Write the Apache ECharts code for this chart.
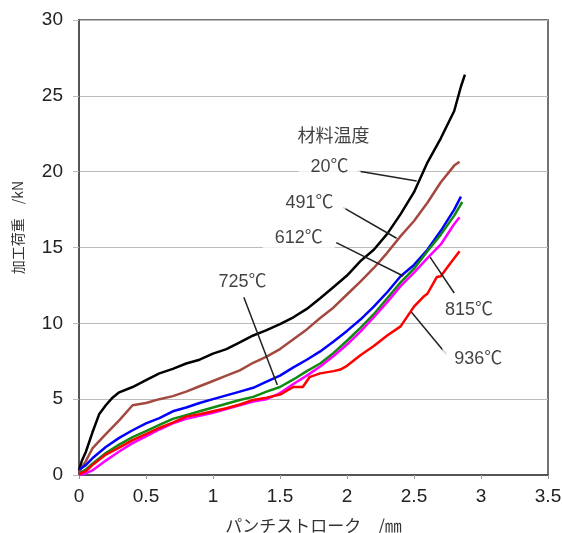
<!DOCTYPE html>
<html>
<head>
<meta charset="utf-8">
<script src="https://cdn.jsdelivr.net/npm/echarts@6.0.0/dist/echarts.min.js"></script>
<style>
  html, body { margin: 0; padding: 0; background: #fff; }
  #main { width: 562px; height: 533px; }
</style>
</head>
<body>
<div id="main"></div>
<script>
// パンチストローク (mm) と 加工荷重 (kN)
var load20 = [[0,0.3],[0.02,0.9],[0.05,1.5],[0.1,2.8],[0.15,4.0],[0.2,4.6],[0.25,5.1],[0.3,5.45],[0.4,5.8],[0.5,6.25],[0.6,6.7],[0.7,7.0],[0.8,7.35],[0.9,7.6],[1.0,8.0],[1.1,8.3],[1.2,8.75],[1.3,9.2],[1.4,9.55],[1.5,9.95],[1.6,10.4],[1.7,10.95],[1.8,11.65],[1.9,12.4],[2.0,13.15],[2.1,14.1],[2.2,14.85],[2.3,15.9],[2.4,17.2],[2.5,18.65],[2.6,20.6],[2.7,22.2],[2.8,24.0],[2.85,25.6],[2.88,26.4]]
var load491 = [[0,0.2],[0.05,0.9],[0.1,1.75],[0.2,2.7],[0.3,3.6],[0.4,4.6],[0.5,4.75],[0.6,5.0],[0.7,5.2],[0.8,5.5],[0.9,5.85],[1.0,6.2],[1.1,6.55],[1.2,6.9],[1.3,7.4],[1.4,7.8],[1.5,8.3],[1.6,8.95],[1.7,9.6],[1.8,10.35],[1.9,11.05],[2.0,11.9],[2.1,12.75],[2.2,13.65],[2.3,14.65],[2.4,15.75],[2.5,16.75],[2.6,17.95],[2.7,19.3],[2.8,20.4],[2.84,20.65]]
var load612 = [[0,0.35],[0.05,0.65],[0.1,1.1],[0.2,1.85],[0.3,2.45],[0.4,2.95],[0.5,3.4],[0.6,3.75],[0.7,4.2],[0.8,4.45],[0.9,4.75],[1.0,5.0],[1.1,5.25],[1.2,5.5],[1.3,5.75],[1.4,6.15],[1.5,6.55],[1.6,7.1],[1.7,7.6],[1.8,8.15],[1.9,8.8],[2.0,9.5],[2.1,10.25],[2.2,11.1],[2.3,12.05],[2.4,13.1],[2.5,13.85],[2.6,14.85],[2.7,16.1],[2.8,17.5],[2.85,18.35]]
var load725 = [[0,0.1],[0.05,0.35],[0.1,0.75],[0.2,1.45],[0.3,2.0],[0.4,2.5],[0.5,2.9],[0.6,3.3],[0.7,3.7],[0.8,3.95],[0.9,4.2],[1.0,4.45],[1.1,4.7],[1.2,4.95],[1.3,5.15],[1.4,5.5],[1.5,5.8],[1.6,6.3],[1.7,6.85],[1.8,7.35],[1.9,8.05],[2.0,8.85],[2.1,9.7],[2.2,10.6],[2.3,11.65],[2.4,12.7],[2.5,13.6],[2.6,14.75],[2.7,15.85],[2.8,17.1],[2.86,18.0]]
var load815 = [[0,0.0],[0.05,0.1],[0.1,0.3],[0.2,0.95],[0.3,1.55],[0.4,2.1],[0.5,2.55],[0.6,3.0],[0.7,3.4],[0.8,3.7],[0.9,3.9],[1.0,4.1],[1.1,4.35],[1.2,4.6],[1.3,4.85],[1.4,5.0],[1.5,5.4],[1.6,6.0],[1.7,6.55],[1.8,7.15],[1.9,7.85],[2.0,8.6],[2.1,9.45],[2.2,10.4],[2.3,11.4],[2.4,12.45],[2.5,13.35],[2.6,14.3],[2.7,15.2],[2.8,16.55],[2.84,17.0]]
var load936 = [[0,0.05],[0.05,0.25],[0.1,0.65],[0.2,1.35],[0.3,1.8],[0.4,2.3],[0.5,2.7],[0.6,3.1],[0.7,3.45],[0.8,3.85],[0.9,4.0],[1.0,4.2],[1.1,4.4],[1.2,4.65],[1.3,4.95],[1.4,5.1],[1.5,5.3],[1.6,5.8],[1.67,5.8],[1.72,6.45],[1.8,6.7],[1.9,6.85],[1.95,6.95],[2.0,7.2],[2.1,7.9],[2.2,8.5],[2.3,9.2],[2.4,9.8],[2.5,11.1],[2.57,11.75],[2.6,11.95],[2.67,13.05],[2.7,13.1],[2.77,13.95],[2.84,14.75]]

// 注記 (材料温度) : ラベル位置と引出線
var noteNames = ['材料温度', '20℃', '491℃', '612℃', '725℃', '815℃', '936℃']
var noteX = [1.9, 1.87, 1.72, 1.64, 1.22, 2.91, 2.98]
var noteY = [22.3, 20.33, 17.93, 15.63, 12.74, 10.88, 7.63]
var leaderFrom = [[2.08, 20.04], [1.97, 17.65], [1.92, 15.32], [1.23, 11.72], [2.62, 14.37], [2.48, 10.75]]
var leaderTo = [[2.52, 19.38], [2.37, 15.61], [2.42, 13.12], [1.48, 5.93], [2.8, 12.0], [2.74, 7.98]]

var curves = [
  { data: load20, color: '#000000' },
  { data: load491, color: '#a4493f' },
  { data: load612, color: '#0000ff' },
  { data: load725, color: '#118a11' },
  { data: load815, color: '#ff00ff' },
  { data: load936, color: '#ff0000' }
]

var myChart = echarts.init(document.getElementById('main'), null, { renderer: 'canvas' })

var series = curves.map(function (c) {
  return {
    type: 'line',
    data: c.data,
    showSymbol: false,
    silent: true,
    lineStyle: { color: c.color, width: 2.5 },
    z: 3
  }
})

series.push({
  type: 'scatter',
  symbolSize: 0,
  z: 5,
  silent: true,
  data: noteNames.map(function (n, i) {
    return { name: n, value: [noteX[i], noteY[i]] }
  }),
  label: {
    show: true,
    position: 'inside',
    formatter: '{b}',
    color: '#111',
    fontSize: 18,
    fontFamily: 'Liberation Sans, "Noto Sans CJK JP", sans-serif',
    backgroundColor: '#fff',
    padding: [2, 12]
  },
  markLine: {
    silent: true,
    symbol: 'none',
    label: { show: false },
    lineStyle: { color: '#222', width: 1.5, type: 'solid' },
    data: leaderFrom.map(function (p, i) {
      return [{ coord: p }, { coord: leaderTo[i] }]
    })
  }
})

myChart.setOption({
  animation: false,
  backgroundColor: '#fff',
  grid: {
    left: 79,
    top: 20,
    right: 14,
    bottom: 58,
    outerBoundsMode: 'none',
    show: true,
    borderColor: '#444',
    borderWidth: 1.5
  },
  xAxis: {
    type: 'value',
    min: 0,
    max: 3.5,
    interval: 0.5,
    name: 'パンチストローク　/㎜',
    nameLocation: 'middle',
    nameGap: 42,
    nameTextStyle: { fontSize: 17, color: '#333', fontFamily: '"Noto Sans CJK JP", sans-serif' },
    axisLine: { lineStyle: { color: '#555', width: 2 } },
    axisTick: { show: true, length: 4, lineStyle: { color: '#999' } },
    axisLabel: { fontSize: 19, color: '#222', margin: 12, fontFamily: 'Liberation Sans, Arial, sans-serif' },
    splitLine: { show: false }
  },
  yAxis: {
    type: 'value',
    min: 0,
    max: 30,
    interval: 5,
    name: '加工荷重　/kN',
    nameLocation: 'middle',
    nameGap: 54,
    nameTextStyle: { fontSize: 14, color: '#333', fontFamily: '"Noto Sans CJK JP", sans-serif', padding: [0, 0, 0, 40] },
    axisLine: { lineStyle: { color: '#555', width: 2 } },
    axisTick: { show: true, length: 6, lineStyle: { color: '#bbb' } },
    axisLabel: { fontSize: 19, color: '#222', margin: 16, fontFamily: 'Liberation Sans, Arial, sans-serif' },
    splitLine: { show: true, lineStyle: { color: '#bbb', width: 1.2 } }
  },
  series: series
})
</script>
</body>
</html>
